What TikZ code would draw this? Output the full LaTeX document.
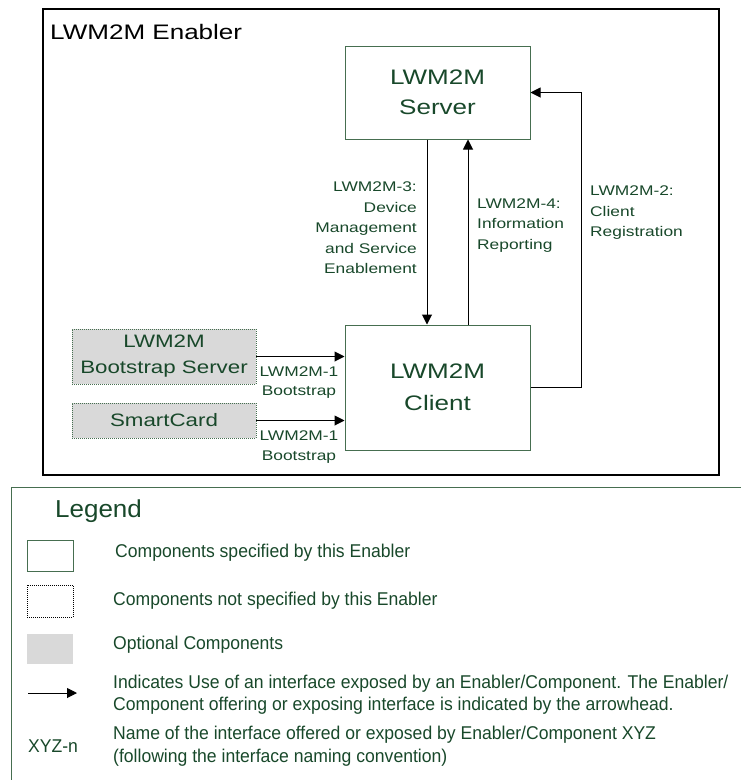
\documentclass[tikz,border=0pt]{standalone}
\usepackage{fontspec}
\setmainfont{Liberation Sans}
\newfontfamily\widefont[FakeStretch=1.24]{Liberation Sans}
\newfontfamily\narrowfont[FakeStretch=0.95]{Liberation Sans}
\newfontfamily\legtitlefont[FakeStretch=1.06]{Liberation Sans}
\usetikzlibrary{arrows.meta}
\definecolor{txtgreen}{RGB}{24,72,42}
\definecolor{boxgreen}{RGB}{70,110,80}
\definecolor{optgray}{RGB}{217,217,217}
\tikzset{
  comp/.style={draw=boxgreen, line width=1pt, rectangle, inner sep=0pt, align=center,
    text=txtgreen, font=\widefont\fontsize{21}{30}\selectfont},
  optcomp/.style={draw=boxgreen, fill=optgray, line width=0.8pt, dash pattern=on 1pt off 1pt,
    rectangle, inner sep=0pt, align=center, text=txtgreen, font=\widefont\fontsize{18}{26}\selectfont},
  lbl/.style={inner sep=0pt, text=txtgreen, font=\widefont\fontsize{14}{20.5}\selectfont},
  legtxt/.style={inner sep=0pt, anchor=west, align=left, text=txtgreen, font=\narrowfont\fontsize{18.5}{22.5}\selectfont},
  arr/.style={draw=black, line width=1pt, -{Triangle[length=10pt,width=10pt]}},
}
\begin{document}
\begin{tikzpicture}[x=1pt,y=-1pt]
\useasboundingbox (0,0) rectangle (741,780);
% Enabler frame
\node[draw=black, line width=1.5pt, minimum width=676pt, minimum height=466pt, inner sep=0pt, anchor=north west] (enabler) at (42,8) {};
\node[anchor=west, inner sep=0pt, font=\widefont\fontsize{21}{25}\selectfont] (title) at (50,32) {LWM2M Enabler};
% components
\node[comp, minimum width=185pt, minimum height=93pt] (server) at (437.5,92.5) {LWM2M\\Server};
\node[comp, minimum width=185pt, minimum height=125pt, font=\widefont\fontsize{21}{32}\selectfont] (client) at (437.5,387.5) {LWM2M\\Client};
\node[optcomp, minimum width=184pt, minimum height=55pt] (boot) at (164,356.5) {LWM2M\\Bootstrap Server};
\node[optcomp, minimum width=184pt, minimum height=35pt] (smart) at (164,420.5) {SmartCard};
% connectors
\draw[arr] ([xshift=-10.5pt]server.south) -- ([xshift=-10.5pt]client.north);
\draw[arr] ([xshift=30.5pt]client.north) -- ([xshift=30.5pt]server.south);
\draw[arr] (client.east) -- ++(51,0) |- (server.east);
\draw[arr] (boot.east) -- (boot.east -| client.west);
\draw[arr] (smart.east) -- (smart.east -| client.west);
% labels
\node[lbl, anchor=east, align=right] (l3) at (417,228) {LWM2M-3:\\Device\\Management\\and Service\\Enablement};
\node[lbl, anchor=west, align=left] (l4) at (477,225.5) {LWM2M-4:\\Information\\Reporting};
\node[lbl, anchor=west, align=left] (l2) at (590,213) {LWM2M-2:\\Client\\Registration};
\node[lbl, align=center, font=\widefont\fontsize{14}{19.5}\selectfont] (l1a) at (299,382.5) {LWM2M-1\\Bootstrap};
\node[lbl, align=center, font=\widefont\fontsize{14}{19.5}\selectfont] (l1b) at (299,447) {LWM2M-1\\Bootstrap};
% legend
\draw[boxgreen, line width=1pt] (11,780) -- (11,487) -- (741,487);
\node[anchor=west, inner sep=0pt, text=txtgreen, font=\legtitlefont\fontsize{24.5}{28}\selectfont] (legend) at (55,511) {Legend};
\node[draw=boxgreen, line width=1pt, minimum width=46pt, minimum height=31pt, inner sep=0pt] (lg1) at (50,555.5) {};
\node[draw=black, line width=0.8pt, dash pattern=on 1pt off 1pt, minimum width=46pt, minimum height=32pt, inner sep=0pt] (lg2) at (50,601) {};
\node[fill=optgray, minimum width=46pt, minimum height=30pt, inner sep=0pt] (lg3) at (50,649) {};
\coordinate (lga) at (28,693);
\coordinate (lgb) at (77,693);
\draw[arr] (lga) -- (lgb);
\node[legtxt, text=txtgreen] (xyz) at (28,746) {XYZ-n};
\node[legtxt] (t1) at (115,553) {Components specified by this Enabler};
\node[legtxt] (t2) at (113,601) {Components not specified by this Enabler};
\node[legtxt] (t3) at (113,645) {Optional Components};
\node[legtxt] (t4) at (113,694.5) {Indicates Use of an interface exposed by an Enabler/Component. The Enabler/\\Component offering or exposing interface is indicated by the arrowhead.};
\node[legtxt] (t5) at (113,746) {Name of the interface offered or exposed by Enabler/Component XYZ\\(following the interface naming convention)};
\end{tikzpicture}
\end{document}
